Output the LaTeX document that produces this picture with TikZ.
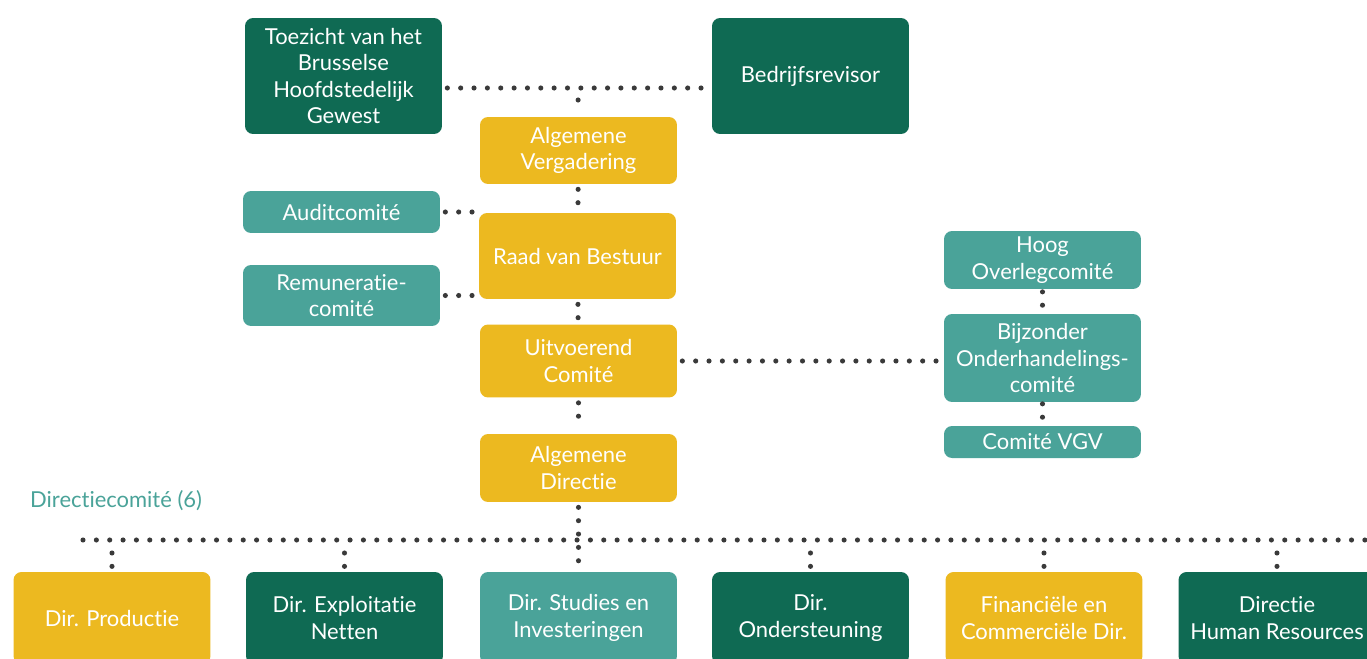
\documentclass[tikz,border=0pt]{standalone}
\usepackage{fontspec}
\setmainfont{Lato}[Ligatures={NoCommon}]
\definecolor{darkgreen}{HTML}{0F6A53}
\definecolor{gold}{HTML}{ECB920}
\definecolor{teal}{HTML}{4AA399}
\definecolor{dotgray}{HTML}{3A3A3A}
\begin{document}
\begin{tikzpicture}[x=0.02cm, y=-0.02cm]
\tikzset{ box/.style={rounded corners=0.16cm, minimum width=3.94cm, text=white, align=center, inner sep=0pt, font=\fontsize{12.5}{15}\selectfont},
  greenbox/.style={box, fill=darkgreen},
  goldbox/.style={box, fill=gold},
  tealbox/.style={box, fill=teal},
  dotline/.style={draw=dotgray, line width=2.9pt, line cap=round, dash pattern=on 0pt off 7.6pt, shorten <=0.1cm, shorten >=0.1cm},
}
\clip (0,0) rectangle (1367,659);
\fill[white] (0,0) rectangle (1367,659);

\node [greenbox, minimum height=2.32cm] (toezicht) at (343.5,76) {Toezicht van het\\Brusselse\\Hoofdstedelijk\\Gewest};
\node [greenbox, minimum height=2.32cm] (revisor) at (810.5,76) {Bedrijfsrevisor};

\node [goldbox, minimum height=1.34cm] (vergadering) at (578.5,150.5) {Algemene\\Vergadering};
\node [goldbox, minimum height=1.72cm] (raad) at (577.5,256) {Raad van Bestuur};
\node [goldbox, minimum height=1.46cm] (uitvoerend) at (578.5,361) {Uitvoerend\\Comité};
\node [goldbox, minimum height=1.36cm] (directie) at (578.5,468) {Algemene\\Directie};

\node [tealbox, minimum height=0.84cm] (audit) at (341.5,212) {Auditcomité};
\node [tealbox, minimum height=1.22cm] (remuneratie) at (341.5,295.5) {Remuneratie-\\comité};

\node [tealbox, minimum height=1.16cm] (hoog) at (1042.5,260) {Hoog\\Overlegcomité};
\node [tealbox, minimum height=1.76cm] (bijzonder) at (1042.5,358) {Bijzonder\\Onderhandelings-\\comité};
\node [tealbox, minimum height=0.64cm] (vgv) at (1042.5,442) {Comité VGV};

\node [anchor=west, text=teal, font=\fontsize{12.5}{15}\selectfont] (dircom) at (24,501) {Directiecomité (6)};

\node [goldbox, minimum height=1.84cm] (productie) at (112,618) {Dir. Productie};
\node [greenbox, minimum height=1.84cm] (exploitatie) at (344.5,618) {Dir. Exploitatie\\Netten};
\node [tealbox, minimum height=1.84cm] (studies) at (578.5,618) {Dir. Studies en\\Investeringen};
\node [greenbox, minimum height=1.84cm] (ondersteuning) at (810.5,618) {Dir.\\Ondersteuning};
\node [goldbox, minimum height=1.84cm] (financien) at (1044,618) {Financiële en\\Commerciële Dir.};
\node [greenbox, minimum height=1.84cm] (hr) at (1277,618) {Directie\\Human Resources};

\coordinate (top) at (578,88);
\coordinate (busL) at (83,540);
\coordinate (busR) at (1375,540);

\draw [dotline] (toezicht.east |- top) -- (revisor.west |- top);
\draw [dotline, shorten <=0.24cm] (top) -- (vergadering);
\draw [dotline] (vergadering) -- (raad);
\draw [dotline] (raad) -- (uitvoerend);
\draw [dotline] (uitvoerend) -- (directie);
\draw [dotline] (audit.east) -- (audit.east -| raad.west);
\draw [dotline] (remuneratie.east) -- (remuneratie.east -| raad.west);
\draw [dotline] (uitvoerend.east) -- (uitvoerend.east -| bijzonder.west);
\draw [dotline, shorten <=0.05cm, shorten >=0.05cm] (hoog) -- (bijzonder);
\draw [dotline, shorten <=0.03cm, shorten >=0.03cm] (bijzonder) -- (vgv);

\draw [dotline, shorten <=0pt, shorten >=0pt] (busL) -- (busR);
\draw [dotline, shorten >=0.03cm] (directie) -- (studies);
\draw [dotline, shorten <=0.26cm, shorten >=0pt] (productie.north |- busL) -- (productie);
\draw [dotline, shorten <=0.26cm, shorten >=0pt] (exploitatie.north |- busL) -- (exploitatie);
\draw [dotline, shorten <=0.26cm, shorten >=0pt] (ondersteuning.north |- busL) -- (ondersteuning);
\draw [dotline, shorten <=0.26cm, shorten >=0pt] (financien.north |- busL) -- (financien);
\draw [dotline, shorten <=0.26cm, shorten >=0pt] (hr.north |- busL) -- (hr);

\end{tikzpicture}
\end{document}
